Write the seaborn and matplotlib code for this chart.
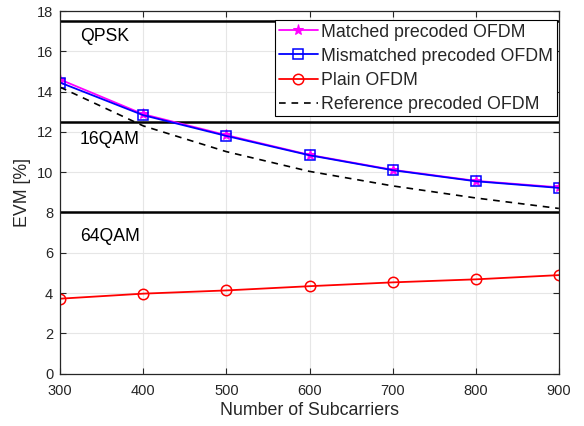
import matplotlib
matplotlib.use("Agg")
import matplotlib.pyplot as plt
import seaborn as sns

subcarriers = [300, 400, 500, 600, 700, 800, 900]
matched = [14.6, 12.88, 11.84, 10.86, 10.12, 9.57, 9.25]
mismatched = [14.45, 12.83, 11.8, 10.84, 10.1, 9.55, 9.22]
plain = [3.72, 3.97, 4.13, 4.34, 4.53, 4.68, 4.89]
reference = [14.22, 12.3, 11.02, 10.04, 9.32, 8.72, 8.2]
thresholds = [17.5, 12.5, 8.0]
region_labels = ["QPSK", "16QAM", "64QAM"]
region_label_y = [16.73, 11.6, 6.8]

sns.set_style("white")
plt.rcParams['font.family'] = ['Liberation Sans', 'DejaVu Sans']

fig = plt.figure(figsize=(5.84, 4.26), dpi=100)
ax = fig.add_axes([0.103, 0.123, 0.854, 0.851])

sns.lineplot(x=subcarriers, y=matched, ax=ax, color="#ff00ff", marker="*",
             markersize=8, markeredgecolor="#ff00ff", lw=1.3,
             label="Matched precoded OFDM")
sns.lineplot(x=subcarriers, y=mismatched, ax=ax, color="#0000ff", marker="s",
             markersize=6.5, markerfacecolor="none", markeredgecolor="#0000ff",
             markeredgewidth=1.1, lw=1.3, label="Mismatched precoded OFDM")
sns.lineplot(x=subcarriers, y=plain, ax=ax, color="#ff0000", marker="o",
             markersize=7.5, markerfacecolor="none", markeredgecolor="#ff0000",
             markeredgewidth=1.1, lw=1.3, label="Plain OFDM")
sns.lineplot(x=subcarriers, y=reference, ax=ax, color="black", lw=1.2,
             label="Reference precoded OFDM")
ax.lines[-1].set_dashes([4, 3.5])

for t in thresholds:
    ax.axhline(t, color="black", lw=1.8, zorder=1.5)
for lab, yy in zip(region_labels, region_label_y):
    ax.text(324, yy, lab, fontsize=12.7, color="black", va="center", ha="left")

ax.set_xlim(300, 900)
ax.set_ylim(0, 18)
ax.set_xticks(range(300, 901, 100))
ax.set_yticks(range(0, 19, 2))
ax.grid(True, color="#e6e6e6", lw=0.8)
ax.tick_params(axis="both", labelsize=10.5, direction="in", length=4,
               top=True, right=True, bottom=True, left=True, color="#262626",
               labelcolor="#262626")
ax.tick_params(axis="x", pad=7.5)
ax.tick_params(axis="y", pad=5)
for s in ax.spines.values():
    s.set_color("#262626")
    s.set_linewidth(0.9)
ax.set_xlabel("Number of Subcarriers", fontsize=12.8, color="#262626", labelpad=3)
ax.set_ylabel("EVM [%]", fontsize=12.8, color="#262626", labelpad=4)

leg = ax.legend(loc="upper right", bbox_to_anchor=(557 / 584, 1 - 20 / 426),
                bbox_transform=fig.transFigure, borderaxespad=0,
                fontsize=12.8, frameon=True, fancybox=False,
                edgecolor="black", framealpha=1, borderpad=0.2,
                handlelength=2.2, handletextpad=0.2, labelspacing=0.4)
leg.get_frame().set_linewidth(0.8)

fig.savefig("out.png", dpi=100)
